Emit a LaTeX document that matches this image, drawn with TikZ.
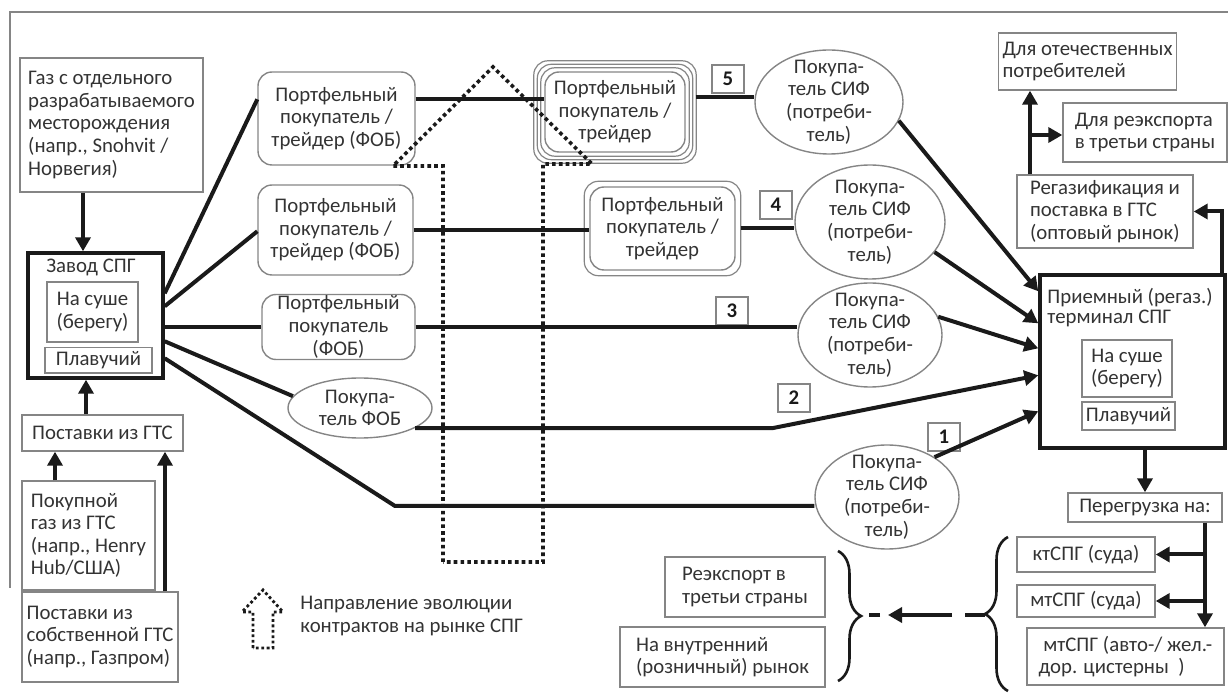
\documentclass[tikz,border=0pt]{standalone}
\usepackage{fontspec}
\setmainfont{Carlito}
\usetikzlibrary{arrows.meta,positioning,calc,shapes.geometric,decorations.pathreplacing}
\definecolor{lngInk}{HTML}{1A1A1A}
\definecolor{lngGrey}{HTML}{858585}
\definecolor{lngText}{HTML}{333333}
\newcommand{\lngfont}{\fontsize{10.4}{11.3}\selectfont}
\tikzset{
  box/.style    ={draw=lngGrey,line width=0.7pt,inner sep=2pt,font=\lngfont,
                  text=lngText,align=left},
  rbox/.style   ={box,rounded corners=7pt,align=center},
  bigbox/.style ={draw=lngInk,line width=1.7pt,inner sep=0pt},
  buyer/.style  ={draw=lngGrey,line width=0.7pt,ellipse,inner sep=0pt},
  btext/.style  ={font=\lngfont,text=lngText,align=center,inner sep=0pt},
  numbox/.style ={draw=lngGrey,line width=0.7pt,font=\lngfont\bfseries,text=lngInk,
                  minimum width=16pt,minimum height=14pt,inner sep=0pt},
  ring/.style   ={draw=lngGrey,line width=0.6pt,rounded corners=7pt},
  link/.style   ={lngInk,line width=2pt},
  flow/.style   ={link,-{Triangle[length=7pt,width=7.5pt]}},
  evo/.style    ={lngInk,line width=1.8pt,dash pattern=on 1.8pt off 1.6pt},
  brc/.style    ={decorate,decoration={brace,amplitude=11.5pt},lngInk,line width=1.3pt},
  lbl/.style    ={font=\lngfont,text=lngText,align=left,inner sep=0pt},
}
\begin{document}
\begin{tikzpicture}[x=0.5pt,y=-0.5pt]
\useasboundingbox (0,0) rectangle (1228,700);
\draw[lngGrey,line width=0.8pt] (10,588) -- (10,12) -- (1228,12);

% supply side
\node[box,minimum width=91.5pt,minimum height=67pt] (field) at (111.5,125)
  {Газ с отдельного\\разрабатываемого\\месторождения\\(напр., Snohvit /\\Норвегия)};
\node[bigbox,minimum width=67.5pt,minimum height=62.5pt] (plant) at (95.5,315.5) {};
\node[lbl,anchor=north] (plantT) at (91,259) {Завод СПГ};
\node[box,align=center,minimum width=45.5pt,minimum height=30pt] (onshore) at (92.5,312) {На суше\\(берегу)};
\node[box,minimum width=53.5pt,minimum height=12.5pt] (floating) at (98.5,360.5) {Плавучий};
\node[box,minimum width=80.5pt,minimum height=18pt] (gts) at (102.5,433) {Поставки из ГТС};
\node[box,minimum width=66.5pt,minimum height=54.5pt] (bought) at (88.5,535.5)
  {Покупной\\газ из ГТС\\(напр., Henry\\Hub/США)};
\node[box,minimum width=78pt,minimum height=45pt] (ownsys) at (100,637)
  {Поставки из\\собственной ГТС\\(напр., Газпром)};

\draw[flow] (field.south -| 83,0) -- (plant.north -| 83,0);
\draw[flow] (gts.north -| 86,0) -- (plant.south -| 86,0);
\draw[flow] (bought.north -| 55,0) -- (gts.south -| 55,0);
\draw[flow] (ownsys.north -| 165,0) -- (gts.south -| 165,0);

% FOB buyers
\node[rbox,minimum width=78.5pt,minimum height=46.5pt] (pf1) at (336.5,118.5)
  {Портфельный\\покупатель /\\трейдер (ФОБ)};
\node[rbox,minimum width=77.5pt,minimum height=45pt] (pf2) at (335.5,230)
  {Портфельный\\покупатель /\\трейдер (ФОБ)};
\node[rbox,minimum width=76.5pt,minimum height=32.5pt,inner sep=0pt] (pf3) at (338.5,327)
  {Портфельный\\покупатель\\(ФОБ)};
\node[buyer,minimum width=72pt,minimum height=30pt] (fob) at (360,408) {};
\node[btext] (fobT) at (fob) {Покупа-\\тель ФОБ};

% traders
\node[rbox,minimum width=70pt,minimum height=40pt] (tr5) at (615,112)
  {Портфельный\\покупатель /\\трейдер};
\foreach \d in {3.5,7,10.5}
  \draw[ring] ($(tr5.north west)+(-\d,-\d)$) rectangle ($(tr5.south east)+(\d,\d)$);
\node[rbox,minimum width=72.5pt,minimum height=41.5pt] (tr4) at (662.5,228.5)
  {Портфельный\\покупатель /\\трейдер};
\draw[ring] ($(tr4.north west)+(-5,-5)$) rectangle ($(tr4.south east)+(5,5)$);

% CIF buyers
\node[buyer,minimum width=74pt,minimum height=52pt] (cif5) at (829,102) {};
\node[btext] (cif5T) at (cif5) {Покупа-\\тель СИФ\\(потреби-\\тель)};
\node[buyer,minimum width=75pt,minimum height=57pt] (cif4) at (870,222) {};
\node[btext] (cif4T) at (cif4) {Покупа-\\тель СИФ\\(потреби-\\тель)};
\node[buyer,minimum width=72pt,minimum height=52pt] (cif3) at (870,335) {};
\node[btext] (cif3T) at (cif3) {Покупа-\\тель СИФ\\(потреби-\\тель)};
\node[buyer,minimum width=72pt,minimum height=52pt] (cif1) at (887,497) {};
\node[btext] (cif1T) at (cif1) {Покупа-\\тель СИФ\\(потреби-\\тель)};

% chain numbers
\node[numbox] (n5) at (728,79) {5};
\node[numbox] (n4) at (776,205) {4};
\node[numbox] (n3) at (732,311) {3};
\node[numbox] (n2) at (794,398) {2};
\node[numbox] (n1) at (944,437) {1};

% receiving side
\node[bigbox,minimum width=92.5pt,minimum height=86.5pt] (term) at (1132.5,361.5) {};
\node[lbl,anchor=north west,font=\fontsize{10.4}{9.8}\selectfont] (termT) at (1047,288)
  {Приемный (регаз.)\\терминал СПГ};
\node[box,align=center,minimum width=45pt,minimum height=28.5pt] (termOn) at (1127,368.5) {На суше\\(берегу)};
\node[box,minimum width=46.5pt,minimum height=14pt] (termFl) at (1128.5,416) {Плавучий};
\node[box,minimum width=88pt,minimum height=36.5pt] (regas) at (1105,211.5)
  {Регазификация и\\поставка в ГТС\\(оптовый рынок)};
\node[box,minimum width=84.5pt,minimum height=28.5pt] (home) at (1087.5,61.5)
  {Для отечественных\\потребителей};
\node[box,minimum width=82pt,minimum height=29.5pt] (reexp) at (1145,132.5)
  {Для реэкспорта\\в третьи страны};
\node[box,minimum width=77pt,minimum height=14.5pt] (reload) at (1145,507.5) {Перегрузка на:};
\node[box,minimum width=69pt,minimum height=17.5pt] (kt) at (1086,554.5) {ктСПГ (суда)};
\node[box,minimum width=69pt,minimum height=16pt] (mtship) at (1086,601) {мтСПГ (суда)};
\node[box,minimum width=98.5pt,minimum height=28.5pt] (mtland) at (1125.5,656.5)
  {\ мтСПГ (авто-/ жел.-\\дор. цистерны\ \ )};
\node[box,minimum width=80pt,minimum height=30pt] (reexp2) at (745,587)
  {Реэкспорт в\\третьи страны};
\node[box,minimum width=102.5pt,minimum height=30pt] (retail) at (722.5,657)
  {На внутренний\\(розничный) рынок};

% from the plant
\coordinate (bend1) at (395,506);
\draw[link] ($(plant.north east)+(0,42)$) -- ($(pf1.north west)+(0,28)$);
\draw[link] ($(plant.north east)+(0,55)$) -- ($(pf2.north west)+(0,47)$);
\draw[link] (pf3.west -| plant.east) -- (pf3.west);
\draw[link] ($(plant.north east)+(0,90)$) -- (fob.170);
\draw[link] ($(plant.north east)+(0,107)$) -- (bend1) -- (bend1 -| cif1.west);

% chains 5..1
\coordinate (c5) at ($(pf1.north east)+(0,28)$);
\draw[link] (c5) -- (c5 -| tr5.west);
\draw[link] ($(c5 -| tr5.east)+(10,-2)$) -- ($(c5 -| cif5.west)+(0,-2)$);
\draw[link] (pf2.east) -- (pf2.east -| tr4.west);
\draw[link] ($(tr4.east)+(5,0)$) -- (tr4.east -| cif4.west);
\draw[link] (pf3.east) -- (pf3.east -| cif3.west);
\coordinate (bend2) at (773,428);
\draw[flow] (fob.-20) -- (fob.-20 -| bend2) -- ($(term.north west)+(0,102)$);
\draw[flow] (cif5.-15) -- ($(term.north west)+(0,18)$);
\draw[flow] (cif4.-25) -- ($(term.north west)+(0,50)$);
\draw[flow] (cif3.15) -- ($(term.north west)+(0,75)$);
\draw[flow] (cif1.40) -- ($(term.north west)+(0,138)$);

% onward from the terminal
\draw[flow] (term.north -| 1222,0) |- (regas.east);
\coordinate (fork) at (1030,135);
\draw[flow] (regas.north -| fork) -- (home.south -| fork);
\draw[flow] (fork) -- (fork -| reexp.west);
\draw[flow] (term.south -| reload.north) -- (reload.north);
\coordinate (drop) at (1205,0);
\draw[flow] (reload.south -| drop) -- (mtland.north -| drop);
\draw[flow] (kt.east -| drop) -- (kt.east);
\draw[flow] (mtship.east -| drop) -- (mtship.east);

% braces and dashed arrow
\draw[brc] (1008,691) -- (1008,537);
\draw[brc] (838,551) -- (838,681);
\coordinate (rtip) at (985,615);
\coordinate (ltip) at (861,615);
\draw[link] (rtip) -- ($(rtip)+(-20,0)$);
\draw[flow] ($(rtip)+(-33,0)$) -- ($(ltip)+(27,0)$);
\draw[link] ($(ltip)+(19,0)$) -- ($(ltip)+(8,0)$);

% evolution arrow
\draw[evo] (443,562) -- (443,166) -- (393,166) -- (493,67) -- (592,164) -- (543,164) -- (543,562) -- cycle;
\draw[evo,line width=1.4pt,dash pattern=on 1.4pt off 1.3pt]
  (253,648) -- (253,612) -- (242,612) -- (263,590) -- (283,612) -- (273,612) -- (273,648) -- cycle;
\node[lbl,anchor=west] (legend) at (300,616) {Направление эволюции\\контрактов на рынке СПГ};
\end{tikzpicture}
\end{document}
